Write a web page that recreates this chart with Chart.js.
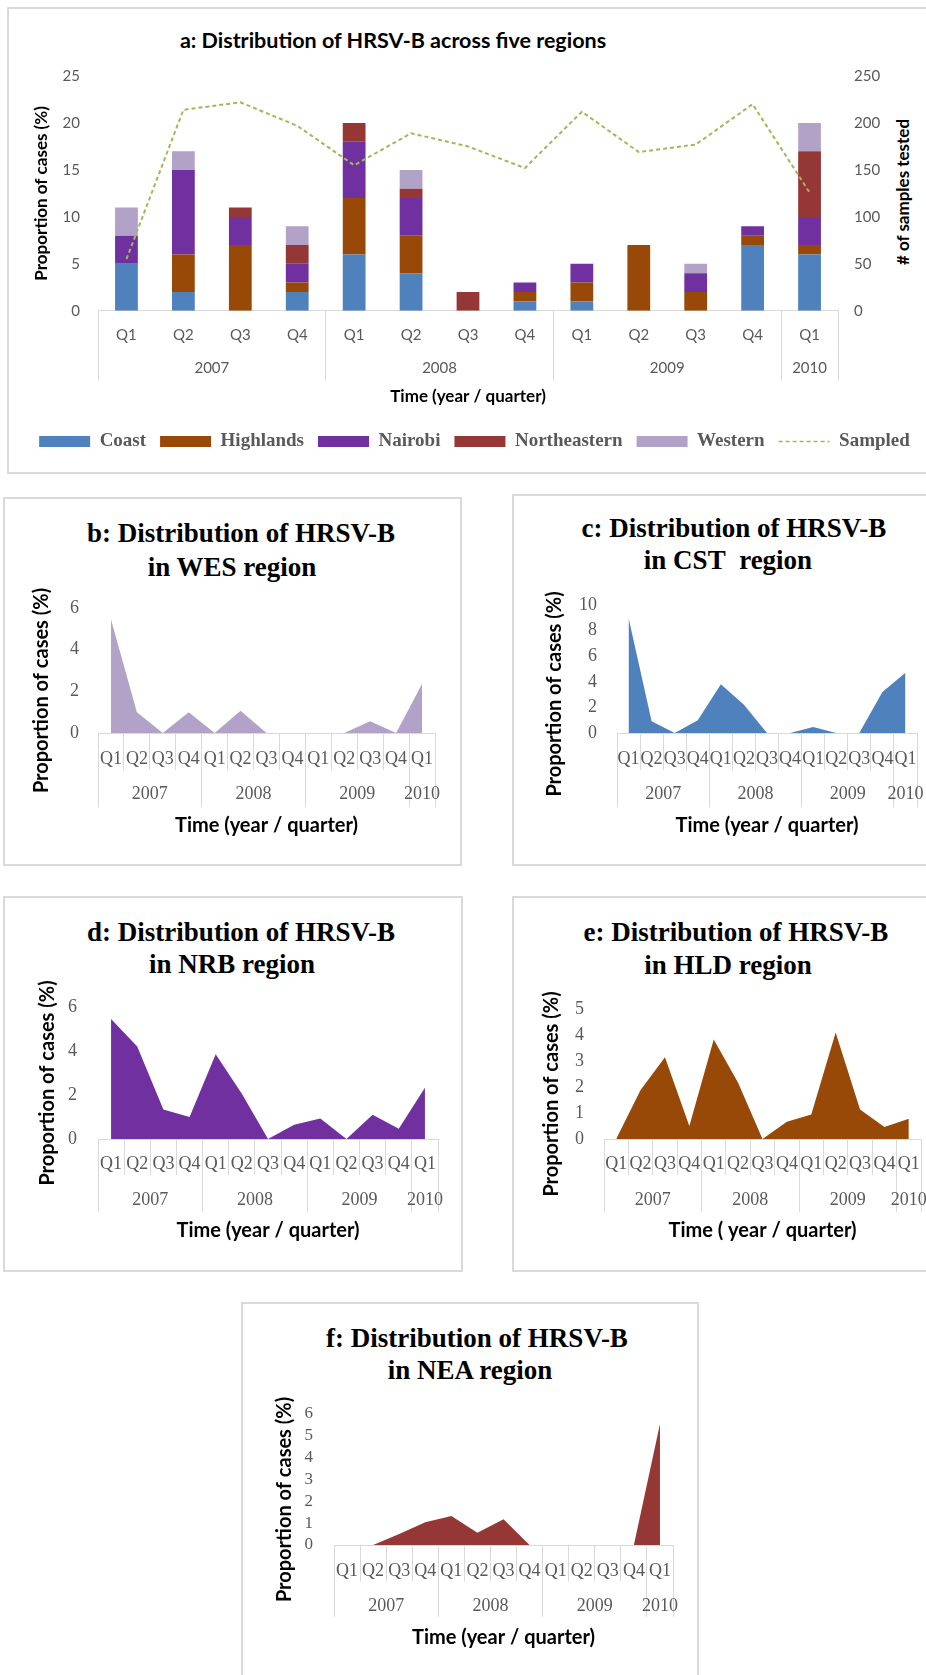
<!DOCTYPE html>
<html>
<head>
<meta charset="utf-8">
<title>Distribution of HRSV-B</title>
<script src="https://cdn.jsdelivr.net/npm/chart.js@4.4.1/dist/chart.umd.min.js"></script>
<style>
  body { margin: 0; width: 926px; height: 1675px; position: relative; overflow: hidden; background: #fff; }
  .panel { position: absolute; border: 2px solid #d9d9d9; box-sizing: border-box; }
  canvas { position: absolute; }
  .ttl { position: absolute; transform: translate(-50%, -50%); white-space: nowrap; line-height: 1; color: #000;
         font-variant-ligatures: none; font-feature-settings: "liga" 0; }
  .serif { font: bold 27px "Liberation Serif", serif; }
  .sans { font: bold 21.5px Lato, sans-serif; }
  .vert { font: bold 17px Lato, sans-serif; transform: translate(-50%, -50%) rotate(-90deg); }
</style>
</head>
<body>
<div class="panel" style="left:7px;top:7px;width:930px;height:467px"></div>
<div class="panel" style="left:3px;top:497px;width:459px;height:369px"></div>
<div class="panel" style="left:512px;top:494px;width:430px;height:372px"></div>
<div class="panel" style="left:3px;top:896px;width:460px;height:376px"></div>
<div class="panel" style="left:512px;top:896px;width:430px;height:376px"></div>
<div class="panel" style="left:241px;top:1302px;width:458px;height:390px"></div>

<div class="ttl sans" style="left:393px;top:40px">a: Distribution of HRSV-B across five regions</div>
<div class="ttl vert" style="left:902px;top:192px"># of samples tested</div>
<div class="ttl serif" style="left:241px;top:533px">b: Distribution of HRSV-B</div>
<div class="ttl serif" style="left:232px;top:567px">in WES region</div>
<div class="ttl serif" style="left:734px;top:528px">c: Distribution of HRSV-B</div>
<div class="ttl serif" style="left:728px;top:560px">in CST&nbsp; region</div>
<div class="ttl serif" style="left:241px;top:932px">d: Distribution of HRSV-B</div>
<div class="ttl serif" style="left:232px;top:964px">in NRB region</div>
<div class="ttl serif" style="left:736px;top:932px">e: Distribution of HRSV-B</div>
<div class="ttl serif" style="left:728px;top:965px">in HLD region</div>
<div class="ttl serif" style="left:477px;top:1338px">f: Distribution of HRSV-B</div>
<div class="ttl serif" style="left:470px;top:1370px">in NEA region</div>

<script>
const quarters = ['Q1', 'Q2', 'Q3', 'Q4', 'Q1', 'Q2', 'Q3', 'Q4', 'Q1', 'Q2', 'Q3', 'Q4', 'Q1'];
const years = ['2007', '2008', '2009', '2010'];
const quartersPerYear = [4, 4, 4, 1];

// panel a: stacked proportion of cases (%) per region, and samples tested
const coast = [5, 2, 0, 2, 6, 4, 0, 1, 1, 0, 0, 7, 6];
const highlands = [0, 4, 7, 1, 6, 4, 0, 1, 2, 7, 2, 1, 1];
const nairobi = [3, 9, 3, 2, 6, 4, 0, 1, 2, 0, 2, 1, 3];
const northeastern = [0, 0, 1, 2, 2, 1, 2, 0, 0, 0, 0, 0, 7];
const western = [3, 2, 0, 2, 0, 2, 0, 0, 0, 0, 1, 0, 3];
const sampled = [55, 214, 222, 197, 155, 189, 175, 152, 212, 169, 177, 220, 126];

// panels b-f: proportion of cases (%) in one region
const wesCases = [5.45, 1.0, 0, 1.0, 0, 1.07, 0, 0, 0, 0, 0.56, 0, 2.35];
const cstCases = [9.0, 0.91, 0, 1.0, 3.8, 2.2, 0, 0, 0.47, 0, 0, 3.2, 4.7];
const nrbCases = [5.45, 4.2, 1.34, 1.0, 3.85, 2.06, 0, 0.65, 0.93, 0, 1.1, 0.47, 2.33];
const hldCases = [0, 1.88, 3.14, 0.5, 3.83, 2.16, 0, 0.66, 0.94, 4.1, 1.13, 0.46, 0.78];
const neaCases = [0, 0, 0.5, 1.04, 1.33, 0.56, 1.18, 0, 0, 0, 0, 0, 5.54];

const GRID = '#d9d9d9';
const TICK = '#595959';
const NONE = 'rgba(0,0,0,0)';
const LATO = 'Lato, sans-serif';
const SERIF = '"Liberation Serif", serif';
const colors = {
  coast: '#4f81bd',
  highlands: '#984807',
  nairobi: '#7030a0',
  northeastern: '#953735',
  western: '#b3a2c7',
  sampled: '#9bbb59',
};

function yearLayout() {
  const bounds = [0];
  const centers = [];
  quartersPerYear.forEach((n) => {
    const start = bounds[bounds.length - 1];
    centers.push(start + n / 2);
    bounds.push(start + n);
  });
  return { bounds, centers };
}

function addCanvas(box) {
  const c = document.createElement('canvas');
  c.width = box[2];
  c.height = box[3];
  c.style.left = `${box[0]}px`;
  c.style.top = `${box[1]}px`;
  document.body.appendChild(c);
  return c;
}

// two-row category axis: quarters on top, years underneath, with separators
function timeAxes(p, tickFont, titleText, titleFont) {
  const { bounds, centers } = yearLayout();
  const qLen = p.qSepEnd - p.B;
  const yLen = p.yearSepEnd - p.qSepEnd;
  const tickHalf = (tickFont.size * 1.2) / 2;
  const titleHalf = (titleFont.size * 1.2) / 2;
  const titlePad = p.titlePad || 0;
  return {
    x: {
      type: 'category',
      offset: true,
      grid: {
        display: true,
        drawOnChartArea: false,
        drawTicks: true,
        tickLength: qLen,
        offset: true,
        color: (c) => ((p.allSeparators || c.index === undefined || bounds.includes(c.index)) ? GRID : NONE),
      },
      border: { display: true, color: GRID },
      ticks: {
        font: tickFont, color: TICK, maxRotation: 0, autoSkip: false,
        padding: p.qLabelY - p.B - qLen - tickHalf,
      },
      afterFit: (s) => { s.height = qLen; },
    },
    xYear: {
      type: 'linear',
      axis: 'x',
      position: 'bottom',
      offset: false,
      min: 0,
      max: bounds[bounds.length - 1],
      afterBuildTicks: (s) => {
        s.ticks = bounds.concat(centers).sort((a, b) => a - b).map((v) => ({ value: v }));
      },
      ticks: {
        font: tickFont, color: TICK, maxRotation: 0, autoSkip: false,
        padding: p.yearLabelY - p.qSepEnd - yLen - tickHalf,
        callback: (v) => { const i = centers.indexOf(v); return i >= 0 ? years[i] : ''; },
      },
      grid: {
        display: true,
        offset: false,
        drawOnChartArea: false,
        drawTicks: true,
        tickLength: yLen,
        color: (c) => ((c.tick && bounds.includes(c.tick.value)) ? GRID : NONE),
      },
      border: { display: false },
      title: {
        display: true, text: titleText, font: titleFont, color: '#000',
        padding: { top: 0, bottom: titlePad },
      },
      afterFit: (s) => { s.height = p.titleY + titleHalf + titlePad - p.qSepEnd; },
    },
  };
}

function areaChart(p, values, color, yMax, yStep, xTitle) {
  const [cx, cy, cw, ch] = p.canvas;
  const titleFont = { family: LATO, size: 20, weight: 'bold' };
  const tickFont = { family: SERIF, size: 18 };
  const shift = Math.round((2 * (p.yTitleY - (p.T + p.B) / 2)) / 10);
  const axes = timeAxes(p, tickFont, xTitle, titleFont);
  // eslint-disable-next-line no-new, no-undef
  new Chart(addCanvas(p.canvas), {
    type: 'line',
    data: {
      labels: quarters,
      datasets: [{
        data: values,
        backgroundColor: color,
        borderColor: NONE,
        borderWidth: 0,
        fill: 'origin',
        pointRadius: 0,
        tension: 0,
      }],
    },
    options: {
      responsive: false,
      animation: false,
      layout: {
        padding: {
          top: p.T - cy,
          left: 0,
          right: cx + cw - p.R,
          bottom: cy + ch - (p.titleY + 12),
        },
      },
      plugins: { legend: { display: false }, tooltip: { enabled: false } },
      scales: {
        ...axes,
        y: {
          min: 0,
          max: yMax,
          ticks: {
            stepSize: yStep, autoSkip: false, font: p.yTickFont || tickFont, color: TICK, padding: p.tickPad,
          },
          grid: { display: false, drawTicks: false },
          border: { display: false },
          title: {
            display: true,
            text: `Proportion of cases (%)${'\u2002'.repeat(Math.max(shift, 0))}`,
            font: titleFont,
            color: '#000',
            padding: { top: p.yTitleX - cx - 12, bottom: 0 },
          },
          afterFit: (s) => { s.width = p.L - cx; },
        },
      },
    },
  });
}

function stackedChart() {
  const p = {
    canvas: [8, 8, 918, 465],
    L: 98, R: 838, T: 76, B: 307,
    qLabelY: 331, qSepEnd: 342, yearLabelY: 364, yearSepEnd: 377, titleY: 393, titlePad: 11,
  };
  const [cx, cy, cw] = p.canvas;
  const padLeft = 15;
  const tickFont = { family: LATO, size: 15 };
  const titleFont = { family: LATO, size: 17, weight: 'bold' };
  const axes = timeAxes(p, tickFont, 'Time (year / quarter)', titleFont);
  const bar = (label, data, color) => ({
    type: 'bar', label, data, backgroundColor: color, yAxisID: 'y', order: 1,
    barPercentage: 0.4, categoryPercentage: 1,
  });
  // eslint-disable-next-line no-new, no-undef
  new Chart(addCanvas(p.canvas), {
    type: 'bar',
    data: {
      labels: quarters,
      datasets: [
        bar('Coast', coast, colors.coast),
        bar('Highlands', highlands, colors.highlands),
        bar('Nairobi', nairobi, colors.nairobi),
        bar('Northeastern', northeastern, colors.northeastern),
        bar('Western', western, colors.western),
        {
          type: 'line',
          label: 'Sampled',
          data: sampled,
          yAxisID: 'y2',
          borderColor: colors.sampled,
          borderWidth: 2,
          borderDash: [4, 3],
          pointRadius: 0,
          fill: false,
          tension: 0,
          order: 0,
        },
      ],
    },
    options: {
      responsive: false,
      animation: false,
      layout: {
        padding: { top: p.T - cy, left: padLeft, right: 0, bottom: 12 },
      },
      plugins: {
        tooltip: { enabled: false },
        legend: {
          position: 'bottom',
          labels: {
            font: { family: SERIF, size: 19, weight: 'bold' },
            color: TICK,
            usePointStyle: true,
            pointStyleWidth: 51,
            boxHeight: 11,
            padding: 14,
            generateLabels: (chart) => {
              // eslint-disable-next-line no-undef
              const items = Chart.defaults.plugins.legend.labels.generateLabels(chart);
              items.forEach((it) => {
                const ds = chart.data.datasets[it.datasetIndex];
                if (ds.type === 'line') {
                  Object.assign(it, {
                    pointStyle: 'line', lineDash: [4, 3], lineWidth: 1.5, strokeStyle: colors.sampled,
                  });
                } else {
                  Object.assign(it, { pointStyle: 'rect', lineWidth: 0 });
                }
              });
              return items.sort((a, b) => a.datasetIndex - b.datasetIndex);
            },
          },
        },
      },
      scales: {
        ...axes,
        x: { ...axes.x, stacked: true },
        y: {
          stacked: true,
          min: 0,
          max: 25,
          ticks: { stepSize: 5, font: tickFont, color: TICK, padding: 18 },
          grid: { display: false, drawTicks: false },
          border: { display: false },
          title: {
            display: true,
            text: 'Proportion of cases (%)',
            font: titleFont,
            color: '#000',
            padding: { top: 42 - cx - padLeft - 10.2, bottom: 0 },
          },
          afterFit: (s) => { s.width = p.L - cx - padLeft; },
        },
        y2: {
          position: 'right',
          min: 0,
          max: 250,
          ticks: { stepSize: 50, font: tickFont, color: TICK, padding: 16 },
          grid: { display: false, drawTicks: false },
          border: { display: false },
          afterFit: (s) => { s.width = cx + cw - p.R; },
        },
      },
    },
  });
}

document.addEventListener('DOMContentLoaded', () => {
  stackedChart();
  areaChart({
    canvas: [5, 499, 455, 365], L: 98, R: 435, T: 608, B: 733,
    qLabelY: 759, qSepEnd: 770, yearLabelY: 794, yearSepEnd: 807, titleY: 826,
    yTitleX: 42, yTitleY: 690, tickPad: 19, allSeparators: true,
  }, wesCases, colors.western, 6, 2, 'Time (year / quarter)');
  areaChart({
    canvas: [514, 496, 412, 368], L: 617, R: 917, T: 605, B: 733,
    qLabelY: 759, qSepEnd: 770, yearLabelY: 794, yearSepEnd: 807, titleY: 826,
    yTitleX: 555, yTitleY: 692, tickPad: 20, allSeparators: true,
  }, cstCases, colors.coast, 10, 2, 'Time (year / quarter)');
  areaChart({
    canvas: [5, 898, 456, 372], L: 98, R: 438, T: 1007, B: 1139,
    qLabelY: 1164, qSepEnd: 1175, yearLabelY: 1200, yearSepEnd: 1212, titleY: 1231,
    yTitleX: 48, yTitleY: 1083, tickPad: 21, allSeparators: true,
  }, nrbCases, colors.nairobi, 6, 2, 'Time (year / quarter)');
  areaChart({
    canvas: [514, 898, 412, 372], L: 604, R: 921, T: 1009, B: 1139,
    qLabelY: 1164, qSepEnd: 1175, yearLabelY: 1200, yearSepEnd: 1212, titleY: 1231,
    yTitleX: 552, yTitleY: 1095, tickPad: 20, allSeparators: true,
  }, hldCases, colors.highlands, 5, 1, 'Time ( year / quarter)');
  areaChart({
    canvas: [243, 1304, 454, 371], L: 334, R: 673, T: 1414, B: 1545,
    qLabelY: 1571, qSepEnd: 1581, yearLabelY: 1606, yearSepEnd: 1617, titleY: 1638,
    yTitleX: 285, yTitleY: 1500, tickPad: 21, allSeparators: true,
    yTickFont: { family: SERIF, size: 17 },
  }, neaCases, colors.northeastern, 6, 1, 'Time (year / quarter)');
});
</script>
</body>
</html>
